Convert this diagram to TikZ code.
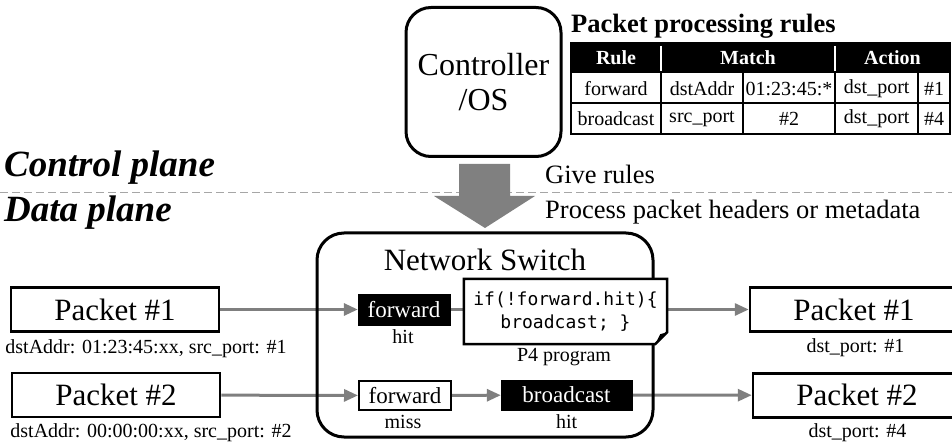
\documentclass[tikz,border=0pt]{standalone}
\usepackage{fontspec}
\setmainfont{Liberation Serif}
\newfontfamily\codefont{DejaVu Sans Mono}
\usetikzlibrary{arrows.meta,backgrounds,calc}
\newcommand\fsz[2]{\fontsize{#1pt}{#2pt}\selectfont}
\definecolor{linegray}{HTML}{7F7F7F}
\definecolor{arrowgray}{HTML}{808080}
\definecolor{dashgray}{HTML}{A6A6A6}
\tikzset{
  plain/.style={inner sep=0pt},
  wire/.style={draw=linegray, line width=3pt, -{Triangle[length=14pt,width=12pt]}},
  pkt/.style={draw, line width=2.5pt, inner sep=0pt, minimum width=208pt,
              minimum height=44pt, font=\fsz{31}{36}},
  lbl/.style={inner sep=0pt, font=\fsz{20}{24}},
  tbl/.style={draw, fill=black, text=white, inner sep=0pt, font=\fsz{23}{27}},
  tbw/.style={draw, line width=2pt, fill=white, inner sep=0pt, font=\fsz{23}{27}},
  cell/.style={inner sep=0pt, font=\fsz{20}{24}},
  head/.style={inner sep=0pt, text=white, font=\fsz{20}{24}\bfseries},
}
\begin{document}
\begin{tikzpicture}[x=1pt,y=-1pt]
\useasboundingbox (0,0) rectangle (952,446);
\clip (0,0) rectangle (952,446);

% plane labels and separator
\node[plain, anchor=west, font=\fsz{37}{42}\bfseries\itshape] (cp) at (4,168) {Control plane};
\node[plain, anchor=west, font=\fsz{37}{42}\bfseries\itshape] (dp) at (4,213) {Data plane};
\node[plain, anchor=west, font=\fsz{26.5}{30}] (give) at (545,174) {Give rules};
\node[plain, anchor=west, font=\fsz{26.5}{30}] (proc) at (545,212) {Process packet headers or metadata};

% controller
\node[draw, line width=3pt, rounded corners=25pt, minimum width=155pt, minimum height=149pt,
      align=center, inner sep=0pt, font=\fsz{32}{35}] (ctrl) at (483.5,82) {Controller\\/OS};

% rule table
\node[plain, anchor=west, font=\fsz{26.5}{30}\bfseries] (ttl) at (571,26.5) {Packet processing rules};
\fill (571,43) rectangle (950,73);
\draw[white, line width=2pt] (661,46) -- (661,71) (835,46) -- (835,71);
\draw[line width=2pt] (571,43) rectangle (950,134);
\draw[line width=2pt] (571,103.5) -- (950,103.5);
\draw[line width=2pt] (661,73) -- (661,134) (742.7,73) -- (742.7,134)
                      (835,73) -- (835,134) (918.3,73) -- (918.3,134);
\node[head] (hrule) at (616,58) {Rule};
\node[head] (hmatch) at (748,58) {Match};
\node[head] (haction) at (892.5,58) {Action};
\node[cell] (r1a) at (616,88.5) {forward};
\node[cell] (r1b) at (702,88.5) {dstAddr};
\node[cell] (r1c) at (789,88.5) {01:23:45:*};
\node[cell] (r1d) at (876.7,88.5) {dst\_port};
\node[cell] (r1e) at (934,88.5) {\#1};
\node[cell] (r2a) at (616,118.7) {broadcast};
\node[cell] (r2b) at (702,118.7) {src\_port};
\node[cell] (r2c) at (789,118.7) {\#2};
\node[cell] (r2d) at (876.7,118.7) {dst\_port};
\node[cell] (r2e) at (934,118.7) {\#4};

% network switch
\node[draw, line width=3pt, rounded corners=27pt, minimum width=336pt, minimum height=204pt] (sw) at (485,335) {};
\node[plain, font=\fsz{31}{36}] (swname) at (485,260) {Network Switch};

% packets
\node[pkt] (inA) at (115,309.5) {Packet \#1};
\node[pkt] (inB) at (116,395) {Packet \#2};
\node[pkt] (outA) at (854,309.5) {Packet \#1};
\node[pkt] (outB) at (857,395.3) {Packet \#2};
\node[lbl] (inAl) at (146,349) {dstAddr: 01:23:45:xx, src\_port: \#1};
\node[lbl] (inBl) at (151,433) {dstAddr: 00:00:00:xx, src\_port: \#2};
\node[lbl] (outAl) at (855.5,348) {dst\_port: \#1};
\node[lbl] (outBl) at (857.5,433) {dst\_port: \#4};

% tables inside the switch
\node[tbl, minimum width=92pt, minimum height=31pt] (fwdA) at (404,309.5) {forward};
\node[lbl] (hitA) at (403,337) {hit};
\node[tbw, minimum width=92pt, minimum height=29pt] (fwdB) at (405,395.5) {forward};
\node[lbl] (missB) at (403,422) {miss};
\node[tbl, minimum width=131pt, minimum height=30pt] (bcast) at (566.5,395) {broadcast};
\node[lbl] (hitB) at (566.7,422) {hit};

% packet paths
\begin{scope}[on background layer]
  \draw[dashgray, line width=1.5pt, dash pattern=on 8pt off 4pt] (0,192.3) -- (952,192.3);
  \draw[wire] (inA) -- (fwdA);
  \draw[wire] (fwdA) -- (outA);
  \draw[wire] (inB) -- (fwdB);
  \draw[wire] (fwdB) -- (bcast);
  \draw[wire] (bcast) -- (outB);
\end{scope}

% rule installation arrow
\fill[arrowgray] (459,164) -- (510,164) -- (510,196) -- (535,196) -- (485,228)
                 -- (434,196) -- (459,196) -- cycle;

% P4 program note
\node[fill=white, inner sep=0pt, minimum width=203pt, minimum height=65pt, align=center,
      font=\codefont\fsz{18}{23.3}] (p4) at (565.5,311.5) {if(!forward.hit)\{\\broadcast; \}};
\draw[line width=2.5pt, line join=miter] (p4.north west) -- (p4.north east)
  -- ($(p4.south east)+(0,-12)$) -- ($(p4.south east)+(-12,0)$) -- (p4.south west) -- cycle;
\fill ($(p4.south east)+(-12,0)$) -- ($(p4.south east)+(-7,-10)$) -- ($(p4.south east)+(0,-12)$) -- cycle;
\node[lbl] (p4l) at (564,357) {P4 program};
\end{tikzpicture}
\end{document}
